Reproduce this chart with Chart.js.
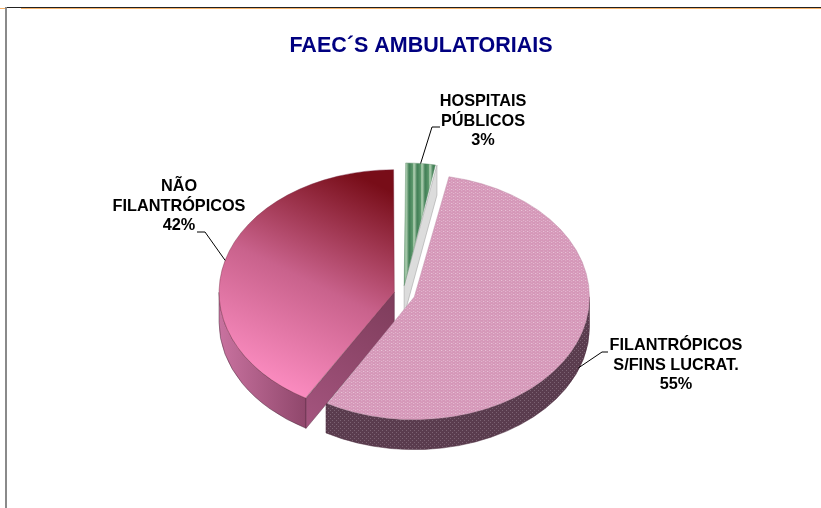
<!DOCTYPE html>
<html>
<head>
<meta charset="utf-8">
<title>FAEC´S AMBULATORIAIS</title>
<style>
    html, body { margin: 0; padding: 0; background: #fff; overflow: hidden; }
    #wrap { position: relative; width: 821px; height: 508px; }
    #chart { position: absolute; left: 0; top: 0; }
    .line { position: absolute; }
</style>
<script src="https://cdn.jsdelivr.net/npm/chart.js@4"></script>
</head>
<body>
<div id="wrap">
    <canvas id="chart" width="821" height="508"></canvas>
    <div class="line" style="left:5px;top:7px;width:816px;height:1px;background:#222"></div>
    <div class="line" style="left:21px;top:8px;width:800px;height:1px;background:#f5b26a"></div>
    <div class="line" style="left:0;top:8px;width:5px;height:1px;background:#f5b26a"></div>
    <div class="line" style="left:5px;top:7px;width:2px;height:501px;background:#8a8a8a"></div>
</div>
<script>
const chartTitle = 'FAEC´S AMBULATORIAIS';
const categories = [['HOSPITAIS', 'PÚBLICOS'], ['FILANTRÓPICOS', 'S/FINS LUCRAT.'], ['NÃO', 'FILANTRÓPICOS']];
// the labels show them rounded
const shares = [3, 55.4, 41.6];

// page layout of the tilted pie
const TILT = 0.7;
const DEPTH = 30;
const MOVES = [12, 12, 9]; // px each slice is pulled out, chart.js takes offset / 4

// where each label block sits and how its leader bends
const labelBoxes = [
    { x: 483, y: 102, elbow: [432, 127], end: [440, 127], onWall: false },
    { x: 676, y: 346, elbow: [602, 352], end: [608, 352], onWall: true },
    { x: 179, y: 187, elbow: [205, 232], end: [197, 232], onWall: false }
];

function tile(w, h, paint) {
    const c = document.createElement('canvas');
    c.width = w;
    c.height = h;
    paint(c.getContext('2d'));
    return c;
}

const ctx = document.getElementById('chart').getContext('2d');

const stripes = ctx.createPattern(tile(8, 8, t => {
    const g = t.createLinearGradient(0, 0, 8, 0);
    g.addColorStop(0, '#3f7d54');
    g.addColorStop(0.45, '#5f9a6e');
    g.addColorStop(0.6, '#bcd8bc');
    g.addColorStop(1, '#3f7d54');
    t.fillStyle = g;
    t.fillRect(0, 0, 8, 8);
}), 'repeat');

const dots = ctx.createPattern(tile(4, 4, t => {
    t.fillStyle = '#d597b8';
    t.fillRect(0, 0, 4, 4);
    t.fillStyle = '#eccfe0';
    t.fillRect(0, 0, 1, 1);
    t.fillRect(2, 2, 1, 1);
}), 'repeat');

const darkDots = ctx.createPattern(tile(4, 4, t => {
    t.fillStyle = '#5a3c4e';
    t.fillRect(0, 0, 4, 4);
    t.fillStyle = '#7b6272';
    t.fillRect(0, 0, 1, 1);
    t.fillRect(2, 2, 1, 1);
}), 'repeat');

const roseFade = ctx.createLinearGradient(225, 400, 400, 150);
roseFade.addColorStop(0, '#ff8fc4');
roseFade.addColorStop(0.5, '#c9628c');
roseFade.addColorStop(1, '#780d18');

const roseWall = ctx.createLinearGradient(220, 0, 310, 0);
roseWall.addColorStop(0, '#c8729f');
roseWall.addColorStop(1, '#8d4569');

const cutWall = ctx.createLinearGradient(306, 428, 394, 300);
cutWall.addColorStop(0, '#a5557f');
cutWall.addColorStop(1, '#7f3d5c');

const sliceFills = [stripes, dots, roseFade];
const sliceEdges = ['#5d8a68', '#b98aa5', '#7a2a45'];
const wallFills = [null, darkDots, roseWall];
const cutFills = ['#dcdcdc', null, cutWall];

// screen position of a slice's tip, with the tilt applied
function sliceTip(arc, i, cy) {
    const mid = (arc.startAngle + arc.endAngle) / 2;
    return {
        x: arc.x + Math.cos(mid) * MOVES[i],
        y: cy + (arc.y + Math.sin(mid) * MOVES[i] - cy) * TILT
    };
}

const tiltPlugin = {
    id: 'tilt',
    beforeDatasetDraw(chart) {
        const cy = (chart.chartArea.top + chart.chartArea.bottom) / 2;
        const c = chart.ctx;
        const meta = chart.getDatasetMeta(0);
        const r = meta.controller.outerRadius + 12;
        const ry = r * TILT;

        meta.data.forEach((arc, i) => {
            const tip = sliceTip(arc, i, cy);

            // arc.draw grows a slice by a share of its offset that depends on its angle,
            // make up the rest so all three slices end up on the same circle
            const grow = MOVES[i] * (1 - Math.sin(Math.min(Math.PI, arc.circumference)));
            arc.outerRadius = r - grow;

            // outer wall, only the part facing the viewer
            const from = Math.max(arc.startAngle, 0);
            const to = Math.min(arc.endAngle, Math.PI);
            if (wallFills[i] && from < to) {
                c.beginPath();
                c.ellipse(tip.x, tip.y, r, ry, 0, from, to);
                c.ellipse(tip.x, tip.y + DEPTH, r, ry, 0, to, from, true);
                c.closePath();
                c.fillStyle = wallFills[i];
                c.fill();
                c.strokeStyle = '#4a2a3c';
                c.lineWidth = 0.5;
                c.stroke();
            }

            // flat cut face that shows beside the slice
            if (cutFills[i]) {
                const a = i === 0 ? arc.endAngle : arc.startAngle;
                const ex = tip.x + Math.cos(a) * r;
                const ey = tip.y + Math.sin(a) * ry;
                c.beginPath();
                c.moveTo(tip.x, tip.y);
                c.lineTo(ex, ey);
                c.lineTo(ex, ey + DEPTH);
                c.lineTo(tip.x, tip.y + DEPTH);
                c.closePath();
                c.fillStyle = cutFills[i];
                c.fill();
                c.strokeStyle = i === 0 ? '#9a9a9a' : '#5c2a44';
                c.lineWidth = 0.5;
                c.stroke();
            }
        });

        c.save();
        c.translate(0, cy);
        c.scale(1, TILT);
        c.translate(0, -cy);
    },
    afterDatasetDraw(chart) {
        chart.ctx.restore();
    },
    afterDraw(chart) {
        const cy = (chart.chartArea.top + chart.chartArea.bottom) / 2;
        const c = chart.ctx;
        const meta = chart.getDatasetMeta(0);
        const r = meta.controller.outerRadius + 12;

        c.save();
        c.textAlign = 'center';
        c.textBaseline = 'middle';
        c.fillStyle = '#000080';
        c.font = 'bold 21.5px "Liberation Sans"';
        c.fillText(chartTitle, 421, 46);

        c.font = 'bold 16.3px "Liberation Sans"';
        meta.data.forEach((arc, i) => {
            const box = labelBoxes[i];
            const tip = sliceTip(arc, i, cy);
            const mid = (arc.startAngle + arc.endAngle) / 2;
            const ax = tip.x + Math.cos(mid) * r;
            const ay = tip.y + Math.sin(mid) * r * TILT + (box.onWall ? DEPTH - 2 : 0);

            c.beginPath();
            c.moveTo(ax, ay);
            c.lineTo(box.elbow[0], box.elbow[1]);
            c.lineTo(box.end[0], box.end[1]);
            c.strokeStyle = '#000';
            c.lineWidth = 1;
            c.stroke();

            c.fillStyle = '#000';
            categories[i].concat(Math.round(shares[i]) + '%').forEach((text, n) => {
                c.fillText(text, box.x, box.y + n * 19.5);
            });
        });
        c.restore();
    }
};

new Chart(ctx, {
    type: 'pie',
    data: {
        labels: categories.map(lines => lines.join(' ')),
        datasets: [{
            data: shares,
            backgroundColor: sliceFills,
            borderColor: sliceEdges,
            borderWidth: 0.5,
            offset: MOVES.map(m => m * 4),
            clip: false
        }]
    },
    options: {
        responsive: false,
        animation: false,
        layout: { padding: { left: 215.5, right: 230.5, top: 106.5, bottom: 26.5 } },
        plugins: {
            legend: { display: false },
            title: { display: false },
            tooltip: { enabled: false }
        }
    },
    plugins: [tiltPlugin]
});
</script>
</body>
</html>
